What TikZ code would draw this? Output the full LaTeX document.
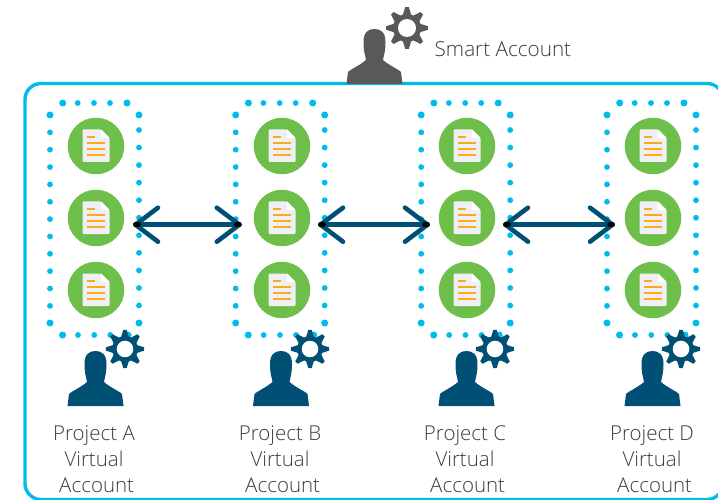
\documentclass[tikz,border=0pt]{standalone}
\usepackage{fontspec}
\setmainfont{Open Sans Light}
\definecolor{cyanline}{HTML}{00BCEB}
\definecolor{navy}{HTML}{004F74}
\definecolor{slategrey}{HTML}{58595B}
\definecolor{leaf}{HTML}{6EBE4A}
\definecolor{pagecol}{HTML}{EEF0F5}
\definecolor{stripe}{HTML}{FBAB18}
\definecolor{labelgrey}{HTML}{3C3C3C}
\tikzset{
  x=1pt,y=-1pt,
  frame/.style={draw=cyanline,line width=3.4pt,rounded corners=16pt},
  dotbig/.style={fill=cyanline,draw=none,circle,minimum size=7pt,inner sep=0pt},
  dotsmall/.style={fill=cyanline,draw=none,circle,minimum size=5.8pt,inner sep=0pt},
  bubble/.style={fill=leaf,draw=none,circle,minimum size=56.5pt,inner sep=0pt},
  twoway/.style={navy,line width=5pt,line cap=round},
  barb/.style={navy,line width=4.6pt,line cap=round,line join=round},
  tipmark/.style={black,line width=4.6pt,line cap=round},
  acclabel/.style={font=\fontsize{20.5}{26.3}\selectfont,text=labelgrey,align=center,inner sep=0pt},
}
\newcommand{\docicon}[3]{%
  \node[bubble] (#1) at (#2,#3) {};
  \begin{scope}[shift={(#1.center)}]
    \fill[pagecol,rounded corners=1pt] (-13.5,-16.5) -- (5,-16.5) -- (13.5,-8) -- (13.5,16) -- (-13.5,16) -- cycle;
    \fill[white] (5,-16.5) -- (13.5,-8) -- (5,-8) -- cycle;
    \draw[stripe,line width=2.2pt] (-9,-9) -- (-1,-9) (-9,-3) -- (9,-3) (-9,3) -- (9,3) (-9,9) -- (9,9);
  \end{scope}}
\newcommand{\persongear}[6]{%
  \begin{scope}[shift={(#1,#2)}]
    \fill[#3] (-28,55) -- (-26.5,43) .. controls (-25,41) and (-14,36) .. (-8.5,31)
      .. controls (-9,27) and (-11,23) .. (-11,13)
      .. controls (-11,3) and (-6,0) .. (0,0)
      .. controls (6,0) and (11,3) .. (11,13)
      .. controls (11,23) and (9,27) .. (8.5,31)
      .. controls (14,36) and (25,41) .. (26.5,43) -- (28,55) -- cycle;
  \end{scope}
  \begin{scope}[shift={(#4,#5)},scale=#6]
    \foreach \a in {0,45,...,315}
      \fill[#3,rotate=\a] (-4.6,-12) -- (-1.8,-20.8) -- (1.8,-20.8) -- (4.6,-12) -- cycle;
    \fill[#3] (0,0) circle (14);
    \fill[white] (0,0) circle (9);
  \end{scope}}
\begin{document}
\begin{tikzpicture}
\useasboundingbox (0,0) rectangle (718,500);
\fill[white] (0,0) rectangle (718,500);
\draw[frame] (25,83.5) rectangle (723,499.5);
\foreach \i/\cx in {a/0,b/185.7,c/371.2,d/557}{
  \begin{scope}[shift={(\cx,0)}]
    \foreach \x/\k in {62.7/1,94/3,110/4}{\node[dotsmall] (t\i\k) at (\x,103) {};\node[dotsmall] (u\i\k) at (\x+.3,335) {};}
    \node[dotbig] (t\i0) at (62.7,103) {};
    \node[dotsmall] (t\i2) at (77.7,103) {};
    \node[dotbig] (t\i5) at (127,103) {};
    \node[dotbig] (u\i0) at (62.5,335) {};
    \node[dotsmall] (u\i2) at (78,335) {};
    \node[dotbig] (u\i5) at (128,335) {};
    \node[dotbig] (l\i0) at (50,115) {};
    \node[dotbig] (r\i0) at (139,115) {};
    \foreach \n in {1,...,11}{
      \node[dotsmall] (l\i\n) at (50,{115+17.35*\n}) {};
      \node[dotsmall] (r\i\n) at (139,{130+17.55*(\n-1)}) {};
    }
    \node[dotbig] (l\i12) at (50,323) {};
    \node[dotbig] (r\i12) at (139,323) {};
  \end{scope}}
\foreach \i/\x in {a/96,b/282,c/467,d/653}{
  \docicon{\i p}{\x}{146}
  \docicon{\i q}{\x}{218}
  \docicon{\i r}{\x}{290}
}
\foreach \a/\b/\x/\y in {ea/eb/135.5/239.3,ec/ed/320.5/427.5,ee/ef/505.5/612.5}{
  \coordinate (\a) at (\x,224.7);
  \coordinate (\b) at (\y,224.7);
  \draw[twoway] (\a) -- (\b);
  \draw[barb] ([shift={(22.5,-17)}]\a) -- (\a) -- ([shift={(22.5,17)}]\a);
  \draw[barb] ([shift={(-22.5,-17)}]\b) -- (\b) -- ([shift={(-22.5,17)}]\b);
  \draw[tipmark] (\a) -- ++(3,0);
  \draw[tipmark] (\b) -- ++(-3,0);
}
\persongear{374.5}{29}{slategrey}{407}{28}{1}
\persongear{95.5}{351}{navy}{125}{349}{.92}
\persongear{281}{351}{navy}{310}{349}{.92}
\persongear{466.5}{351}{navy}{495}{349}{.92}
\persongear{652.5}{351}{navy}{681}{349}{.92}
\node[acclabel,anchor=west,font=\fontsize{20.7}{24}\selectfont] (sa) at (434.5,49) {Smart Account};
\node[acclabel] (pa) at (94,459) {Project A\\Virtual\\\ Account};
\node[acclabel] (pb) at (280,459) {Project B\\Virtual\\\ Account};
\node[acclabel] (pc) at (465,459) {Project C\\Virtual\\\ Account};
\node[acclabel] (pd) at (652,459) {Project D\\Virtual\\\ Account};
\end{tikzpicture}
\end{document}
